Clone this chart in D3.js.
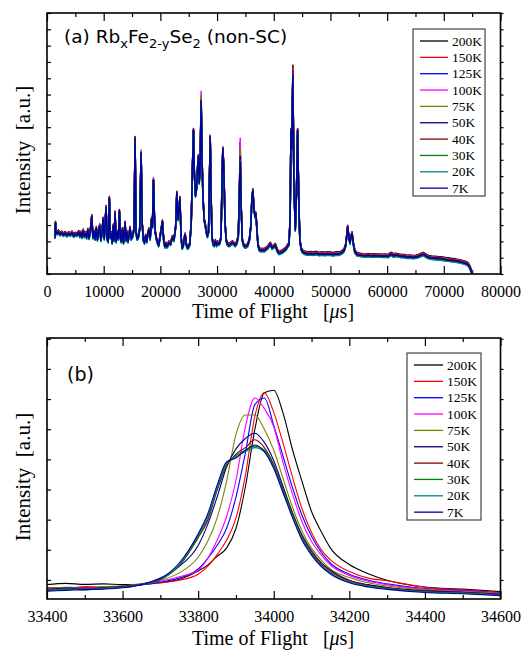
<!DOCTYPE html>
<html>
<head>
<meta charset="utf-8">
<script src="https://cdn.jsdelivr.net/npm/d3@7"></script>
<style>
body { margin: 0; background: #fff; }
text { font-family: "Liberation Serif", "Times New Roman", serif; fill: #000; }
</style>
</head>
<body>
<script>
const width = 525;
const height = 651;

const left = 47, right = 500.5;
const topA = 13, bottomA = 274;
const topB = 338, bottomB = 599;

// temperatures, drawn in this order (7K last, on top)
const temps = ['200K', '150K', '125K', '100K', '75K', '50K', '40K', '30K', '20K', '7K'];
const colors = ['#000000', '#ff0000', '#0000ff', '#ff00ff', '#808000', '#000080', '#800000', '#008000', '#008080', '#0000a0'];

// ---- panel (a): full TOF pattern, [tof, intensity]
const profileA = [
  [1400, 14], [1500, 19.5], [1600, 16], [1800, 15.5], [2000, 16.2], [2300, 15.2], [2600, 15.8], [2900, 15.0],
  [3200, 15.6], [3500, 14.8], [3800, 15.5], [4100, 15.0], [4400, 15.8], [4700, 14.6], [5000, 15.3], [5300, 14.9],
  [5600, 16.0], [5800, 14.5], [6000, 15.8], [6200, 14.2], [6400, 16.5], [6600, 14.5], [6800, 15.5], [7000, 14.0],
  [7200, 16.8], [7400, 13.8], [7600, 15.5], [7900, 22.0], [8100, 14.0], [8300, 16.2], [8500, 13.5], [8700, 17.5],
  [8900, 13.2], [9100, 16.0], [9300, 18.5], [9500, 13.0], [9700, 15.5], [9900, 21.0], [10100, 13.5], [10420, 25.5],
  [10600, 13.5], [10800, 12.5], [11000, 29.0], [11150, 14.0], [11350, 15.5], [11500, 12.0], [11700, 18.5], [11850, 13.0],
  [12000, 23.4], [12200, 12.5], [12400, 16.0], [12600, 13.5], [12770, 24.0], [12950, 14.0], [13100, 12.5], [13300, 17.0],
  [13500, 12.0], [13770, 19.5], [13950, 13.0], [14100, 16.0], [14300, 12.5], [14650, 17.5], [14850, 13.5], [15100, 14.5],
  [15350, 17.0], [15540, 52.0], [15700, 16.0], [15900, 13.5], [16100, 14.0], [16350, 17.0], [16600, 46.5], [16800, 19.0],
  [17000, 13.0], [17200, 12.0], [17400, 14.5], [17600, 12.5], [17800, 15.5], [18000, 17.0], [18200, 13.5], [18450, 21.0],
  [18600, 18.0], [18780, 36.0], [18950, 22.0], [19100, 16.0], [19300, 13.5], [19500, 12.0], [19700, 11.0], [19900, 13.5],
  [20100, 16.5], [20360, 20.0], [20600, 12.5], [20800, 10.5], [21000, 11.5], [21200, 10.5], [21500, 12.0], [21800, 11.5],
  [22100, 14.0], [22400, 13.0], [22700, 18.0], [22900, 31.0], [23100, 21.0], [23450, 29.0], [23650, 14.0], [23850, 10.0],
  [24050, 11.0], [24200, 13.5], [24370, 15.0], [24600, 11.0], [24800, 10.0], [25000, 10.5], [25200, 11.5], [25450, 20.0],
  [25650, 40.0], [25840, 55.0], [26000, 38.0], [26200, 30.0], [26400, 33.0], [26600, 42.0], [26720, 45.0], [26850, 35.0],
  [27000, 40.0], [27190, 67.0], [27350, 45.0], [27500, 30.0], [27730, 20.7], [27900, 19.0], [28100, 16.0], [28300, 14.5],
  [28500, 16.0], [28650, 35.0], [28790, 52.5], [28950, 30.0], [29100, 14.0], [29300, 11.5], [29500, 11.0], [29700, 12.5],
  [29900, 11.0], [30100, 12.0], [30300, 11.5], [30500, 12.0], [30700, 14.0], [30900, 38.0], [31020, 48.0], [31200, 40.0],
  [31400, 20.0], [31600, 13.0], [31800, 11.5], [32100, 11.0], [32400, 11.5], [32700, 12.0], [33000, 11.5], [33200, 11.0],
  [33500, 12.0], [33750, 14.5], [33950, 32.0], [34080, 43.0], [34250, 26.0], [34450, 13.0], [34700, 11.0], [34900, 10.5],
  [35100, 10.5], [35400, 11.0], [35700, 13.0], [35950, 18.0], [36150, 29.0], [36330, 32.0], [36500, 25.0], [36700, 22.0],
  [36860, 23.0], [37000, 18.0], [37200, 11.5], [37400, 9.5], [37700, 9.0], [38000, 9.2], [38300, 9.0], [38600, 9.5],
  [38900, 10.0], [39200, 11.0], [39400, 11.5], [39700, 10.0], [40000, 10.5], [40300, 11.0], [40600, 9.0], [40900, 8.0],
  [41200, 8.2], [41500, 8.5], [41800, 9.0], [42100, 9.5], [42400, 10.5], [42700, 11.5], [42900, 22.0], [43030, 55.0],
  [43150, 48.0], [43380, 76.0], [43550, 35.0], [43800, 17.0], [44000, 30.0], [44210, 55.0], [44400, 30.0], [44600, 13.0],
  [44850, 9.5], [45100, 8.5], [45500, 8.0], [46000, 7.8], [46500, 7.9], [47000, 7.7], [47500, 8.0], [48000, 7.6],
  [48500, 7.8], [49000, 7.6], [49500, 7.8], [50000, 7.7], [50500, 7.5], [51000, 7.8], [51500, 7.7], [52000, 8.2],
  [52400, 9.0], [52700, 11.0], [52850, 14.0], [53040, 18.0], [53250, 14.0], [53450, 12.0], [53600, 14.0], [53810, 15.5],
  [54000, 12.0], [54300, 8.5], [54700, 7.5], [55200, 7.3], [55700, 7.1], [56200, 7.0], [56700, 7.2], [57200, 7.0],
  [57700, 7.1], [58200, 7.0], [58700, 7.0], [59200, 6.9], [59700, 7.0], [60200, 6.8], [60500, 7.4], [60800, 7.6],
  [61100, 7.0], [61500, 7.3], [62000, 7.1], [62500, 6.8], [63000, 6.8], [63500, 6.5], [64000, 6.6], [64500, 6.4],
  [65000, 6.5], [65500, 6.8], [66000, 7.3], [66400, 7.6], [66800, 7.0], [67300, 6.4], [67800, 6.2], [68300, 6.1],
  [68800, 6.0], [69300, 5.9], [69800, 5.8], [70300, 5.6], [70800, 5.5], [71300, 5.3], [71800, 5.2], [72300, 5.0],
  [72800, 4.8], [73300, 4.5], [73800, 4.2], [74300, 3.6], [74600, 2.5], [74900, 0.8], [75000, 0]
];
// small vertical spread between temperatures (same order as temps)
const offsetA = [0.7, 0.45, 0.3, 0.3, 0.2, 0.0, 0.1, -0.5, -0.6, -0.1];
// peak tops that differ between temperatures
const peakTofA = [16600, 18780, 27190, 34080, 43380];
const peakTopA = [
  [46.5, 36.0, 66.5, 48.0, 80.0],
  [46.5, 36.2, 67.0, 50.0, 79.0],
  [46.5, 36.0, 67.5, 50.5, 77.5],
  [47.0, 37.0, 70.0, 52.0, 77.0],
  [47.5, 36.5, 68.5, 48.0, 76.5],
  [46.5, 36.0, 66.5, 45.0, 76.5],
  [46.5, 36.0, 66.0, 44.0, 76.5],
  [46.5, 35.8, 66.0, 43.5, 76.0],
  [46.5, 35.8, 66.0, 43.0, 76.0],
  [46.5, 36.0, 66.0, 43.0, 76.0]
];
const ticksA = [0, 10000, 20000, 30000, 40000, 50000, 60000, 70000, 80000];

// ---- panel (b): zoom on one peak
const tofB = [33400, 33450, 33500, 33550, 33600, 33650, 33700, 33750, 33800, 33825, 33850, 33875, 33900, 33925, 33950,
  33975, 34000, 34025, 34050, 34075, 34100, 34125, 34150, 34200, 34250, 34300, 34400, 34500, 34600];
const b200K = [5.5, 6.0, 5.6, 5.8, 5.5, 5.6, 6.2, 7.5, 10.7, 13.0, 16.3, 19.5, 27, 43, 65, 79, 80, 71, 57, 45, 33.5, 26, 19.5, 13.2, 9.7, 7.2, 4.6, 3.8, 2.8];
const b150K = [4.5, 4.0, 4.8, 4.5, 5.0, 5.5, 6.2, 7.2, 9.5, 12.5, 17, 22.5, 31, 47.5, 70, 79, 71.5, 59.5, 46.5, 34.5, 25.5, 19, 15, 10.5, 8, 7.0, 4.5, 3.5, 2.5];
const b125K = [3.8, 4.5, 4.2, 4.6, 4.8, 5.4, 6.5, 8, 11.5, 15.5, 20.5, 27, 39, 56, 74.5, 77, 66.5, 54.5, 42.5, 32, 24, 18, 13.7, 9.5, 7.2, 5.8, 4, 3.2, 2.2];
const b100K = [4.2, 3.8, 4.5, 4.3, 5.0, 5.6, 6.8, 8.5, 11, 15.5, 22.5, 31.5, 45.5, 66, 77, 73, 66, 52, 40, 29.5, 22, 17, 13, 9, 6.8, 5.5, 3.8, 3.0, 2.2];
const b75K = [4.0, 4.4, 4.0, 4.7, 5.0, 5.8, 7.2, 10, 16, 22, 31, 45, 63, 70.5, 70.5, 65, 57, 46, 35, 26, 19.5, 15, 11.5, 8.2, 6.2, 5.0, 3.5, 2.8, 2.0];
const b50K = [3.5, 4.2, 4.0, 4.4, 4.8, 5.6, 8, 12.5, 20.5, 28.5, 39, 50.5, 57.5, 61.5, 63.5, 60, 53, 43, 33, 24.5, 18.5, 14, 11, 7.2, 5.5, 4.4, 3.2, 2.6, 1.9];
const b40K = [3.8, 3.6, 4.2, 4.0, 4.6, 5.7, 7.5, 12.8, 23.5, 30, 41.5, 51, 55.5, 58, 61, 58, 51.5, 42, 32.5, 24, 18, 13.5, 10.5, 7, 5.2, 4.2, 3.0, 2.5, 1.8];
const b30K = [3.2, 3.9, 3.5, 4.2, 4.4, 5.5, 7.4, 13, 24, 31, 42, 51.5, 55, 57, 58.5, 57, 51, 41.5, 32, 23.5, 17.5, 13, 10, 6.6, 5, 4.0, 2.8, 2.3, 1.6];
const b20K = [3.4, 3.5, 3.9, 4.0, 4.5, 5.6, 7.6, 13.2, 24.5, 31.5, 42.5, 52, 54.5, 56.5, 58, 56.5, 50.5, 41, 31.5, 23, 17, 12.8, 9.8, 6.4, 4.8, 3.9, 2.7, 2.2, 1.5];
const b7K = [3.0, 3.3, 3.6, 3.8, 4.3, 5.5, 7.8, 13.8, 25, 32.5, 43.5, 52.5, 54, 57, 59, 56.5, 50, 40.5, 31, 22.5, 16.8, 12.5, 9.6, 6.2, 4.6, 3.7, 2.5, 2.0, 1.3];
const seriesB = [b200K, b150K, b125K, b100K, b75K, b50K, b40K, b30K, b20K, b7K];
const ticksB = [33400, 33600, 33800, 34000, 34200, 34400, 34600];

const serif = '"Liberation Serif", "Times New Roman", serif';

const svg = d3.select('body').append('svg')
    .attr('width', width).attr('height', height)
    .style('background-color', '#fff');

function panel(xScale, yScale, top, bottom, majors, minors, yTicks, clipId) {
    const g = svg.append('g');

    g.append('clipPath').attr('id', clipId).append('rect')
        .attr('x', left).attr('y', top).attr('width', right - left).attr('height', bottom - top);

    // bottom axis with labels, ticks inward
    g.append('g').attr('transform', 'translate(0,' + bottom + ')')
        .call(d3.axisBottom(xScale).tickValues(majors).tickSize(-8).tickPadding(12).tickFormat(d3.format('d')))
        .attr('font-family', serif).attr('font-size', 16)
        .call(a => a.select('.domain').remove())
        .call(a => a.selectAll('text').style('font-family', serif).style('font-size', '16px'));
    g.append('g').attr('transform', 'translate(0,' + bottom + ')')
        .call(d3.axisBottom(xScale).tickValues(minors).tickSize(-4).tickFormat(''))
        .call(a => a.select('.domain').remove());
    // top axis
    g.append('g').attr('transform', 'translate(0,' + top + ')')
        .call(d3.axisTop(xScale).tickValues(majors).tickSize(-8).tickFormat(''))
        .call(a => a.select('.domain').remove());
    g.append('g').attr('transform', 'translate(0,' + top + ')')
        .call(d3.axisTop(xScale).tickValues(minors).tickSize(-4).tickFormat(''))
        .call(a => a.select('.domain').remove());
    // left / right axes, no labels
    g.append('g').attr('transform', 'translate(' + left + ',0)')
        .call(d3.axisLeft(yScale).tickValues(yTicks).tickSize(-4).tickFormat(''))
        .call(a => a.select('.domain').remove());
    g.append('g').attr('transform', 'translate(' + right + ',0)')
        .call(d3.axisRight(yScale).tickValues(yTicks).tickSize(3).tickFormat(''))
        .call(a => a.select('.domain').remove());

    g.selectAll('.tick line').attr('stroke', '#000').attr('stroke-width', 1.2);
    return g;
}

function frame(top, bottom) {
    svg.append('rect')
        .attr('x', left).attr('y', top).attr('width', right - left).attr('height', bottom - top)
        .attr('fill', 'none').attr('stroke', '#000').attr('stroke-width', 1.6);
}

function legend(x, y, w, h, lineLen) {
    const lg = svg.append('g');
    lg.append('rect').attr('x', x).attr('y', y).attr('width', w).attr('height', h)
        .attr('fill', '#fff').attr('stroke', '#444').attr('stroke-width', 1.2);
    temps.forEach((t, i) => {
        const yy = y + 12 + i * 16.35;
        lg.append('line').attr('x1', x + 7).attr('x2', x + 7 + lineLen).attr('y1', yy).attr('y2', yy)
            .attr('stroke', colors[i]).attr('stroke-width', 1.3);
        lg.append('text').attr('x', x + 11 + lineLen).attr('y', yy + 4.5)
            .style('font-family', serif).style('font-size', '13.5px').text(t);
    });
}

function xTitle(y) {
    const t = svg.append('text').attr('x', 273).attr('y', y).attr('text-anchor', 'middle')
        .style('font-family', serif).style('font-size', '20px').style('white-space', 'pre');
    t.append('tspan').text('Time of Flight   [');
    t.append('tspan').style('font-style', 'italic').text('\u03bc');
    t.append('tspan').text('s]');
}

function yTitle(cy) {
    svg.append('text').attr('transform', 'translate(30,' + cy + ') rotate(-90)')
        .attr('text-anchor', 'middle').style('font-family', serif)
        .style('font-size', '21px').style('white-space', 'pre')
        .text('Intensity  [a.u.]');
}

// ---------- panel (a)
const xA = d3.scaleLinear().domain([0, 80000]).range([left, right]);
const yA = d3.scaleLinear().domain([0, 100]).range([bottomA, topA]);
const minorA = d3.range(5000, 80000, 10000);
const yTicksA = d3.range(0, 100.01, 6.25);
const gA = panel(xA, yA, topA, bottomA, ticksA, minorA, yTicksA, 'clipA');

const seriesA = temps.map((t, s) => profileA.map(([tof, v]) => {
    const k = peakTofA.indexOf(tof);
    return [tof, k >= 0 ? peakTopA[s][k] : v + offsetA[s]];
}));

const lineA = d3.line().x(d => xA(d[0])).y(d => yA(d[1]));
gA.append('g').attr('clip-path', 'url(#clipA)')
    .selectAll('path').data(seriesA).enter().append('path')
    .attr('d', lineA)
    .attr('fill', 'none')
    .attr('stroke', (d, i) => colors[i])
    .attr('stroke-width', 1.5)
    .attr('stroke-linejoin', 'round');
frame(topA, bottomA);
legend(413, 29, 72, 167, 28);

const title = svg.append('text').attr('x', 64).attr('y', 43)
    .style('font-family', '"DejaVu Sans", sans-serif').style('font-size', '18.5px');
title.append('tspan').text('(a) Rb');
title.append('tspan').attr('dy', 5).style('font-size', '13px').text('x');
title.append('tspan').attr('dy', -5).text('Fe');
title.append('tspan').attr('dy', 5).style('font-size', '13px').text('2-y');
title.append('tspan').attr('dy', -5).text('Se');
title.append('tspan').attr('dy', 5).style('font-size', '13px').text('2');
title.append('tspan').attr('dy', -5).text(' (non-SC)');

xTitle(318);
yTitle(150);

// ---------- panel (b)
const xB = d3.scaleLinear().domain([33400, 34600]).range([left, right]);
const yB = d3.scaleLinear().domain([0, 100]).range([bottomB, topB]);
const minorB = d3.range(33500, 34600, 200);
const yTicksB = d3.range(0, 9).map(k => 7.3 + 11.55 * k);
const gB = panel(xB, yB, topB, bottomB, ticksB, minorB, yTicksB, 'clipB');

const lineB = d3.line().x((d, i) => xB(tofB[i])).y(d => yB(d)).curve(d3.curveMonotoneX);
gB.append('g').attr('clip-path', 'url(#clipB)')
    .selectAll('path').data(seriesB).enter().append('path')
    .attr('d', lineB)
    .attr('fill', 'none')
    .attr('stroke', (d, i) => colors[i])
    .attr('stroke-width', 1.1);
frame(topB, bottomB);
legend(407, 353, 74, 167, 29);

svg.append('text').attr('x', 67).attr('y', 381)
    .style('font-family', '"DejaVu Sans", sans-serif').style('font-size', '19px').text('(b)');

xTitle(645);
yTitle(477);
</script>
</body>
</html>
